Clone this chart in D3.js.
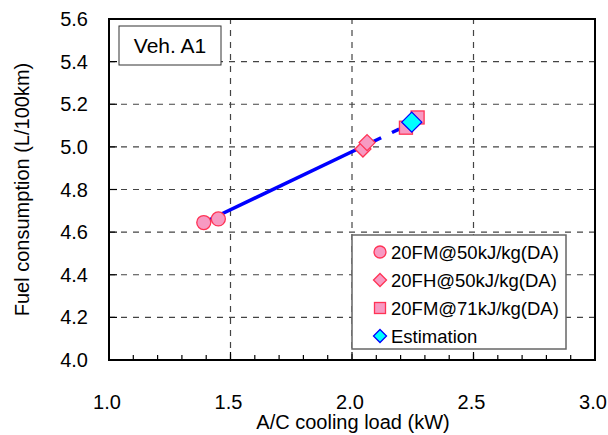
<!DOCTYPE html>
<html>
<head>
<meta charset="utf-8">
<script src="https://cdn.jsdelivr.net/npm/d3@7"></script>
<style>
  body { margin: 0; background: #fff; }
  svg text { font-family: "Liberation Sans", Arial, sans-serif; fill: #000; }
</style>
</head>
<body>
<svg id="chart" width="608" height="435"></svg>
<script>
// data
const fm50X = [1.39, 1.45];
const fm50Y = [4.645, 4.662];
const fh50X = [2.045, 2.062];
const fh50Y = [4.99, 5.02];
const fm71X = [2.222, 2.27];
const fm71Y = [5.09, 5.138];
const estX = [2.246];
const estY = [5.116];
// fitted line: solid part then dashed extrapolation
const fitX = [1.39, 2.12, 2.246];
const fitY = [4.645, 5.043, 5.112];

const xTicks = [1.0, 1.5, 2.0, 2.5, 3.0];
const yTicks = [4.0, 4.2, 4.4, 4.6, 4.8, 5.0, 5.2, 5.4, 5.6];
const legendLabels = ["20FM@50kJ/kg(DA)", "20FH@50kJ/kg(DA)", "20FM@71kJ/kg(DA)", "Estimation"];

const svg = d3.select("#chart");
const margin = { left: 109, right: 13, top: 19, bottom: 75 };
const W = 608, H = 435;

const x = d3.scaleLinear().domain([1, 3]).range([margin.left, W - margin.right]);
const y = d3.scaleLinear().domain([4, 5.6]).range([H - margin.bottom, margin.top]);

const pink = "#f79ac2", red = "#ff3355";

// gridlines
svg.append("g")
  .selectAll("line")
  .data(yTicks.slice(1, -1))
  .join("line")
  .attr("x1", x(1)).attr("x2", x(3))
  .attr("y1", d => y(d)).attr("y2", d => y(d))
  .attr("stroke", "#444").attr("stroke-width", 1.2)
  .attr("stroke-dasharray", "6,6");

svg.append("g")
  .selectAll("line")
  .data(xTicks.slice(1, -1))
  .join("line")
  .attr("y1", y(4)).attr("y2", y(5.6))
  .attr("x1", d => x(d)).attr("x2", d => x(d))
  .attr("stroke", "#444").attr("stroke-width", 1.2)
  .attr("stroke-dasharray", "6,6");

// Veh. A1 box
svg.append("rect")
  .attr("x", 119).attr("y", 26).attr("width", 102).attr("height", 39)
  .attr("fill", "#fff").attr("stroke", "#333").attr("stroke-width", 1);
svg.append("text")
  .attr("x", 170).attr("y", 53).attr("text-anchor", "middle")
  .attr("font-size", 21).text("Veh. A1");

// ticks (inward)
const minor = d3.range(11, 30).map(d => d / 10);
svg.append("g")
  .selectAll("line")
  .data(minor)
  .join("line")
  .attr("x1", d => x(d)).attr("x2", d => x(d))
  .attr("y1", y(4)).attr("y2", d => y(4) - (Math.abs(d * 2 - Math.round(d * 2)) < 1e-6 ? 8 : 5))
  .attr("stroke", "#000").attr("stroke-width", 1.2);

svg.append("g")
  .selectAll("line")
  .data(yTicks.slice(1, -1))
  .join("line")
  .attr("x1", x(1)).attr("x2", x(1) + 8)
  .attr("y1", d => y(d)).attr("y2", d => y(d))
  .attr("stroke", "#000").attr("stroke-width", 1.2);

// tick labels
svg.append("g")
  .selectAll("text")
  .data(yTicks)
  .join("text")
  .attr("x", 88).attr("y", d => y(d) + 7)
  .attr("text-anchor", "end").attr("font-size", 20)
  .text(d => d3.format(".1f")(d));

svg.append("g")
  .selectAll("text")
  .data(xTicks)
  .join("text")
  .attr("x", d => x(d) - 2).attr("y", 409)
  .attr("text-anchor", "middle").attr("font-size", 20)
  .text(d => d3.format(".1f")(d));

// axis titles
svg.append("text")
  .attr("x", 353).attr("y", 429).attr("text-anchor", "middle")
  .attr("font-size", 20).text("A/C cooling load (kW)");
svg.append("text")
  .attr("transform", `translate(29,${(y(4) + y(5.6)) / 2}) rotate(-90)`)
  .attr("text-anchor", "middle").attr("font-size", 20)
  .text("Fuel consumption (L/100km)");

// fit line
const fit = fitX.map((d, i) => [d, fitY[i]]);
const line = d3.line().x(d => x(d[0])).y(d => y(d[1]));
svg.append("path").attr("d", line(fit.slice(0, 2)))
  .attr("fill", "none").attr("stroke", "#0000ff").attr("stroke-width", 3.5);
svg.append("path").attr("d", line(fit.slice(1)))
  .attr("fill", "none").attr("stroke", "#0000ff").attr("stroke-width", 3.5)
  .attr("stroke-dasharray", "0,12,8,8,8");

// markers
function circ(g, cx, cy, r) {
  g.append("circle").attr("cx", cx).attr("cy", cy).attr("r", r)
    .attr("fill", pink).attr("stroke", red).attr("stroke-width", 1.3);
}
function diamond(g, cx, cy, s, fill, stroke) {
  g.append("path")
    .attr("d", `M${cx},${cy - s}L${cx + s},${cy}L${cx},${cy + s}L${cx - s},${cy}Z`)
    .attr("fill", fill).attr("stroke", stroke).attr("stroke-width", 1.3);
}
function square(g, cx, cy, s) {
  g.append("rect").attr("x", cx - s).attr("y", cy - s)
    .attr("width", 2 * s).attr("height", 2 * s)
    .attr("fill", pink).attr("stroke", red).attr("stroke-width", 1.3);
}

const marks = svg.append("g");
fm50X.forEach((d, i) => circ(marks, x(d), y(fm50Y[i]), 7));
fh50X.forEach((d, i) => diamond(marks, x(d), y(fh50Y[i]), 8, pink, red));
fm71X.forEach((d, i) => square(marks, x(d), y(fm71Y[i]), 6.5));
estX.forEach((d, i) => diamond(marks, x(d), y(estY[i]), 10, "#00ffff", "#0000ff"));

// frame
svg.append("rect")
  .attr("x", x(1)).attr("y", y(5.6))
  .attr("width", x(3) - x(1)).attr("height", y(4) - y(5.6))
  .attr("fill", "none").attr("stroke", "#000").attr("stroke-width", 2);

// legend
const lg = svg.append("g");
lg.append("rect")
  .attr("x", 352).attr("y", 235).attr("width", 214).attr("height", 114)
  .attr("fill", "#fff").attr("stroke", "#666").attr("stroke-width", 1.5);
const rowY = [252, 280, 308, 336];
circ(lg, 380, rowY[0], 6);
diamond(lg, 380, rowY[1], 6.5, pink, red);
square(lg, 380, rowY[2], 5.5);
diamond(lg, 380, rowY[3], 6.5, "#00ffff", "#0000ff");
lg.selectAll("text")
  .data(legendLabels)
  .join("text")
  .attr("x", 391).attr("y", (d, i) => rowY[i] + 6.5)
  .attr("font-size", 18.5)
  .text(d => d);
</script>
</body>
</html>
